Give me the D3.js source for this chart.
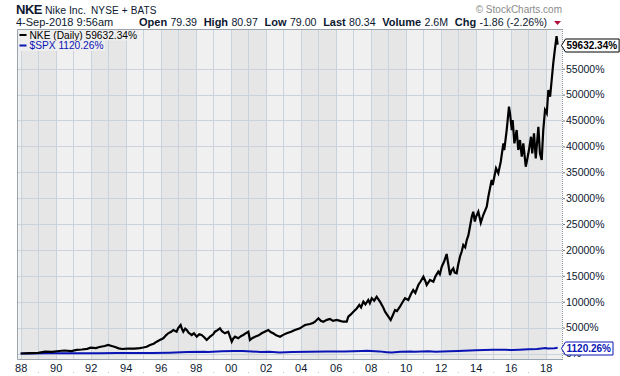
<!DOCTYPE html>
<html>
<head>
<meta charset="utf-8">
<script src="https://cdn.jsdelivr.net/npm/d3@7"></script>
<style>
  body { margin: 0; background: #fff; }
  svg { display: block; font-family: "Liberation Sans", Arial, sans-serif; }
</style>
</head>
<body>
<svg id="chart" width="620" height="376"></svg>
<script>
// NKE daily, % change since Jan 1988 (dates as decimal years)
var nkeDates = [1988.00,1988.50,1989.00,1989.40,1989.80,1990.20,1990.50,1990.90,1991.20,1991.50,1991.80,1992.00,1992.30,1992.50,1992.80,1993.00,1993.20,1993.40,1993.60,1993.80,1994.10,1994.50,1994.80,1995.00,1995.20,1995.39,1995.60,1995.77,1995.95,1996.15,1996.30,1996.43,1996.60,1996.72,1996.91,1997.00,1997.14,1997.22,1997.29,1997.40,1997.49,1997.60,1997.77,1997.90,1998.06,1998.20,1998.34,1998.50,1998.63,1998.82,1999.00,1999.10,1999.25,1999.39,1999.50,1999.67,1999.86,2000.06,2000.15,2000.25,2000.43,2000.60,2000.72,2000.85,2001.01,2001.10,2001.25,2001.39,2001.60,2001.77,2002.00,2002.15,2002.30,2002.43,2002.60,2002.82,2003.00,2003.20,2003.45,2003.67,2003.96,2004.10,2004.25,2004.53,2004.70,2004.82,2005.01,2005.15,2005.29,2005.50,2005.67,2005.85,2006.06,2006.25,2006.43,2006.63,2006.72,2006.85,2007.01,2007.20,2007.35,2007.45,2007.58,2007.70,2007.86,2007.95,2008.06,2008.20,2008.34,2008.45,2008.53,2008.70,2008.82,2009.01,2009.14,2009.25,2009.39,2009.50,2009.67,2009.80,2009.96,2010.15,2010.30,2010.43,2010.55,2010.72,2010.85,2011.01,2011.12,2011.20,2011.39,2011.58,2011.70,2011.86,2011.95,2012.06,2012.20,2012.34,2012.42,2012.53,2012.62,2012.72,2012.80,2012.91,2013.00,2013.10,2013.20,2013.29,2013.40,2013.49,2013.58,2013.67,2013.78,2013.86,2013.95,2014.02,2014.15,2014.29,2014.43,2014.63,2014.72,2014.91,2014.97,2015.16,2015.29,2015.43,2015.58,2015.63,2015.77,2015.90,2015.96,2016.06,2016.11,2016.21,2016.34,2016.43,2016.53,2016.63,2016.72,2016.86,2017.01,2017.16,2017.23,2017.33,2017.43,2017.58,2017.67,2017.77,2017.86,2017.96,2018.06,2018.15,2018.25,2018.34,2018.43,2018.53,2018.62,2018.68];
var nkeValues = [0,60,120,350,300,480,580,450,700,770,900,1120,1050,1255,1450,1640,1450,1255,1000,870,950,930,1050,1160,1300,1641,1900,2279,2600,2935,3500,3901,4200,4538,4210,4900,5503,4700,4210,4800,4538,4000,3572,3900,3244,3700,3572,3100,2607,3244,3700,4210,4500,4866,4300,3901,4210,2279,2900,3244,2935,3400,3572,3900,4210,2607,3000,3244,3500,3901,4300,4538,4100,3901,3500,3244,3600,3901,4200,4538,4866,5200,5503,5696,5900,6141,6797,6300,6141,6500,6662,6300,6469,6300,6141,6141,7106,7500,8072,8700,9400,8900,10003,9500,10331,9700,10659,10200,10968,10400,10003,9000,8072,7106,6469,7300,8400,8200,9037,9800,10659,10331,11500,12262,11700,13227,13900,14830,14000,13227,14193,13865,14900,15796,15300,16761,17800,19213,17500,15158,16000,16452,15600,15487,17200,18692,19700,20952,20500,21917,22800,24485,26500,27380,25500,26415,27380,25257,26744,28347,30278,33503,32538,35763,34797,37037,40590,39296,43158,47657,46383,43158,45089,40590,43158,39296,41227,38002,40590,36071,38659,41863,38659,42521,37694,43795,38659,37365,43158,47020,46383,50883,49589,52814,56039,58935,61309,59632];

// $SPX, % change since Jan 1988
var spxDates = [1988.0,1988.5,1989.5,1990.0,1990.8,1991.5,1992.5,1993.5,1994.5,1995.5,1996.5,1997.5,1998.5,1998.7,1999.5,2000.2,2000.7,2001.2,2001.7,2002.2,2002.8,2003.5,2004.5,2005.5,2006.5,2007.5,2007.8,2008.5,2008.9,2009.2,2009.7,2010.3,2010.5,2011.3,2011.7,2012.5,2013.0,2014.0,2015.0,2015.7,2016.1,2016.5,2017.0,2017.5,2018.0,2018.1,2018.5,2018.68];
var spxValues = [0,8,30,35,25,50,66,80,80,120,160,270,350,300,450,490,500,400,310,350,210,300,355,380,410,505,520,410,260,170,320,370,320,430,360,430,480,640,740,720,660,740,800,880,1050,980,1030,1120];

var yTicks = [0,5000,10000,15000,20000,25000,30000,35000,40000,45000,50000,55000];
var xTickYears = [1988,1990,1992,1994,1996,1998,2000,2002,2004,2006,2008,2010,2012,2014,2016,2018];
var gridYears = d3.range(1988, 2019);

var legendItems = ["NKE (Daily) 59632.34%", "$SPX 1120.26%"];
var lastValues = [59632.34, 1120.26];
var quoteLabels = ["Open", "High", "Low", "Last", "Volume", "Chg"];
var quoteValues = ["79.39", "80.97", "79.00", "80.34", "2.6M", "-1.86 (-2.26%)"];

var svg = d3.select("#chart");
var plot = { left: 17, top: 29, right: 562, bottom: 359 };
var ink = "#0c1830", blue = "#0a14b4";

var x = d3.scaleLinear().domain([1987.79, 2018.93]).range([plot.left, plot.right]);
var y = d3.scaleLinear().domain([0, 55000]).range([353.5, 68.7]);

// background + alternating 2-year bands
svg.append("rect").attr("x", plot.left).attr("y", plot.top)
  .attr("width", plot.right - plot.left).attr("height", plot.bottom - plot.top)
  .attr("fill", "#f0f0f0");
svg.append("g").selectAll("rect")
  .data(gridYears.filter(function (yr) { return yr % 4 === 0; }))
  .join("rect")
  .attr("x", function (d) { return Math.round(x(d)); })
  .attr("y", plot.top)
  .attr("width", function (d) { return Math.round(Math.min(x(d + 2), plot.right)) - Math.round(x(d)); })
  .attr("height", plot.bottom - plot.top)
  .attr("fill", "#e6e6e6");

// grid
var grid = svg.append("g").attr("stroke", "#cad2dc").attr("stroke-width", 1);
grid.selectAll("line.v").data(gridYears).join("line")
  .attr("class", "v")
  .attr("x1", function (d) { return Math.round(x(d)) + 0.5; })
  .attr("x2", function (d) { return Math.round(x(d)) + 0.5; })
  .attr("y1", plot.top).attr("y2", plot.bottom);
grid.selectAll("line.h").data(yTicks).join("line")
  .attr("class", "h")
  .attr("x1", plot.left).attr("x2", plot.right)
  .attr("y1", function (d) { return Math.round(y(d)) + 0.5; })
  .attr("y2", function (d) { return Math.round(y(d)) + 0.5; });

// frame
svg.append("path")
  .attr("d", "M" + (plot.right + 0.5) + "," + (plot.bottom + 0.5) + "H" + (plot.left + 0.5) +
    "V" + (plot.top + 0.5) + "H" + (plot.right + 0.5))
  .attr("fill", "none").attr("stroke", "#9aa4ae");
svg.append("line").attr("x1", plot.right + 0.5).attr("x2", plot.right + 0.5)
  .attr("y1", plot.top).attr("y2", plot.bottom + 1)
  .attr("stroke", "#8a949e").attr("stroke-dasharray", "1,1");

// right axis
var yAxis = d3.axisRight(y).tickValues(yTicks).tickSize(2)
  .tickFormat(function (d) { return d + "%"; });
var ya = svg.append("g").attr("transform", "translate(" + (plot.right + 1) + ",0)").call(yAxis);
ya.select(".domain").remove();
ya.selectAll("line").attr("stroke", "#6a7480");
ya.selectAll("text").attr("fill", ink).attr("font-size", 10.5).attr("x", 3);

// bottom axis
var xAxis = d3.axisBottom(x).tickValues(xTickYears).tickSize(0)
  .tickFormat(function (d) { return d3.format("02d")(d % 100); });
var xa = svg.append("g").attr("transform", "translate(0," + plot.bottom + ")").call(xAxis);
xa.select(".domain").remove();
xa.selectAll("text").attr("fill", ink).attr("font-size", 11).attr("dy", "0.95em");
svg.append("g").selectAll("rect").data(gridYears).join("rect")
  .attr("x", function (d) { return Math.round(x(d)); }).attr("y", 372)
  .attr("width", 1).attr("height", 1).attr("fill", "#c0c4c8");

// lines
var line = d3.line().x(function (d) { return x(d[0]); }).y(function (d) { return y(d[1]); });
svg.append("path").datum(d3.zip(spxDates, spxValues)).attr("d", line)
  .attr("fill", "none").attr("stroke", blue).attr("stroke-width", 2);
svg.append("path").datum(d3.zip(nkeDates, nkeValues)).attr("d", line)
  .attr("fill", "none").attr("stroke", "#000").attr("stroke-width", 2.2);

// legend
var legendColors = ["#000", blue];
legendItems.forEach(function (txt, i) {
  var g = svg.append("g").attr("transform", "translate(" + (plot.left + 1) + "," + (plot.top + 1 + i * 10.5) + ")");
  var t = g.append("text").attr("x", 11.5).attr("y", 8.5).attr("font-size", 10.2)
    .attr("fill", legendColors[i]).text(txt);
  var w = t.node().getComputedTextLength();
  g.insert("rect", "text").attr("width", w + 13).attr("height", 10.5).attr("fill", "#eeeeee");
  g.append("rect").attr("x", 1.5).attr("y", 4).attr("width", 7).attr("height", 2).attr("fill", legendColors[i]);
});

// last-value flags
function flag(val, label, color) {
  var cy = Math.round(y(val)) + 0.5, x0 = plot.right - 0.5;
  var g = svg.append("g");
  var t = g.append("text").attr("x", x0 + 5).attr("y", cy + 3.6).attr("font-size", 10)
    .attr("font-weight", "bold").attr("fill", color).text(label);
  var w = t.node().getComputedTextLength();
  g.insert("path", "text")
    .attr("d", "M" + x0 + "," + cy + "L" + (x0 + 4) + "," + (cy - 6.5) + "H" + (x0 + w + 7) +
      "V" + (cy + 6.5) + "H" + (x0 + 4) + "Z")
    .attr("fill", "#fff").attr("stroke", color);
}
flag(lastValues[1], d3.format(".2f")(lastValues[1]) + "%", blue);
flag(lastValues[0], d3.format(".2f")(lastValues[0]) + "%", "#000");

// header
svg.append("text").attr("x", 16).attr("y", 14).attr("fill", ink)
  .attr("font-size", 13).attr("font-weight", "bold").attr("letter-spacing", -0.5).text("NKE");
svg.append("text").attr("x", 45).attr("y", 14).attr("fill", ink)
  .attr("font-size", 10.5).text("Nike Inc.");
svg.append("text").attr("x", 91).attr("y", 14).attr("fill", ink)
  .attr("font-size", 10).attr("letter-spacing", 0.15).text("NYSE + BATS");
svg.append("text").attr("x", 16).attr("y", 26).attr("font-size", 11).attr("fill", ink).text("4-Sep-2018 9:56am");

var qx = 139;
quoteLabels.forEach(function (lab, i) {
  var a = svg.append("text").attr("x", qx).attr("y", 26).attr("fill", ink)
    .attr("font-size", 11).attr("font-weight", "bold").text(lab);
  qx += a.node().getComputedTextLength() + 3.3;
  var b = svg.append("text").attr("x", qx).attr("y", 26).attr("fill", ink)
    .attr("font-size", 10.6).text(quoteValues[i]);
  qx += b.node().getComputedTextLength() + 6.7;
});
svg.append("path").attr("d", "M554,21L561,21L557.5,25Z").attr("fill", "#b0103a");

svg.append("text").attr("x", 562).attr("y", 13).attr("text-anchor", "end")
  .attr("font-size", 10).attr("fill", "#8a8a8a").text("\u00a9 StockCharts.com");
</script>
</body>
</html>
